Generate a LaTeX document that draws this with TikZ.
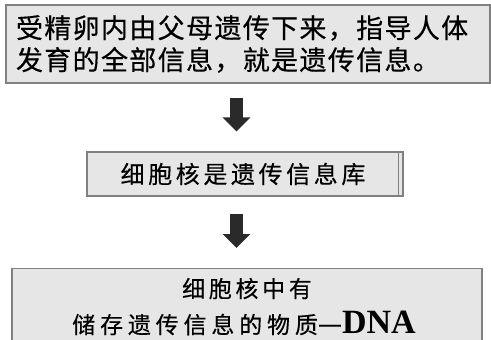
\documentclass[tikz,border=0pt]{standalone}
\usepackage{fontspec}
\usepackage{tikz}
\usepackage{xcolor}
\usetikzlibrary{positioning, arrows.meta, calc}
\newfontfamily\cjkhei{Noto Sans CJK SC}[LetterSpace=5, FakeBold=0.4]
\newfontfamily\cjkmid{Noto Sans CJK SC}[LetterSpace=15, FakeBold=0.3]
\newfontfamily\cjklow{Noto Sans CJK SC}[LetterSpace=16, FakeBold=0.3]
\newfontfamily\cjklowwide{Noto Sans CJK SC}[LetterSpace=21, FakeBold=0.3]
\newfontfamily\tmsbold{Liberation Serif}[BoldFont={Liberation Serif Bold}]
\definecolor{boxFill}  {HTML}{E6E6E6}
\definecolor{boxLine}  {HTML}{808080}
\definecolor{arrowInk} {HTML}{2A2A2A}
\tikzset{
  infobox/.style={draw=boxLine, fill=boxFill, line width=1.2pt, inner sep=0pt},
  flowarrow/.style={draw=arrowInk, line width=13pt,
    -{Triangle[length=14pt, width=27pt]}},
}
\begin{document}
\begin{tikzpicture}[x=1pt, y=-1pt]
        \useasboundingbox (0, 0) rectangle (491, 340);
        % three stacked boxes
        \node[infobox, minimum width=484pt, minimum height=78pt,
              font=\cjkhei\fontsize{27pt}{32pt}\selectfont,
              align=left, text width=464pt] (gene) at (248, 44)
              {受精卵内由父母遗传下来，指导人体\\发育的全部信息，就是遗传信息。};
        \node[infobox, minimum width=316pt, minimum height=44pt,
              font=\cjkmid\fontsize{24pt}{28pt}\selectfont] (nucleus) at (245, 174)
              {\hspace*{-4pt}细胞核是遗传信息库};
        \draw[boxLine, line width=1.2pt]
              ([xshift=-5pt]nucleus.north east) -- ([xshift=-5pt]nucleus.south east);
        \node[infobox, minimum width=470pt, minimum height=76pt, anchor=north,
              font=\cjklow\fontsize{23pt}{36pt}\selectfont,
              align=center] (dna) at (247, 268)
              {细胞核中有\\
               \hspace*{-6pt}{\cjklowwide 储存遗传信息的物质}{\fontsize{27pt}{30pt}\selectfont —}{\tmsbold\bfseries\fontsize{34pt}{34pt}\selectfont DNA}};
        % arrows between the boxes
        \coordinate (ax) at (236.5, 0);
        \draw[flowarrow, shorten <=14pt, shorten >=20pt]
              (gene.south -| ax) -- (nucleus.north -| ax);
        \draw[flowarrow, shorten <=17pt, shorten >=20pt]
              (nucleus.south -| ax) -- (dna.north -| ax);
\end{tikzpicture}
\end{document}
